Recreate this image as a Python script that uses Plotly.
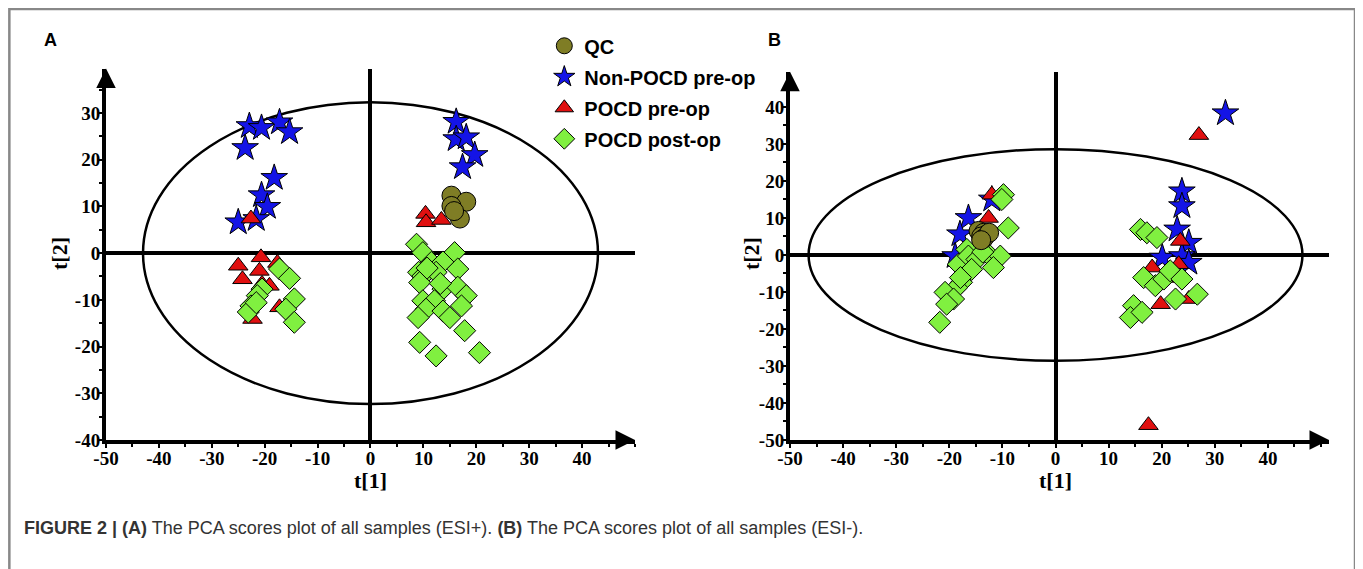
import plotly.graph_objects as go

# ---------------- Panel A (ESI+) ----------------
qc_a_x = [15.3, 18.1, 15.3, 16.9, 15.8]
qc_a_y = [12.3, 11.0, 10.1, 7.4, 9.0]

star_a_x = [-22.9, -20.6, -17.2, -15.3, -23.7, -18.2, -20.6, -19.5, -25.0, -21.6,
            16.2, 16.2, 18.1, 19.7, 17.4]
star_a_y = [27.2, 26.8, 28.0, 25.9, 22.5, 16.1, 12.4, 9.9, 6.6, 7.3,
            28.1, 24.4, 24.8, 21.0, 18.4]

tri_a_x = [-22.6, -25.0, -20.7, -24.2, -21.0, -17.6, -20.5, -19.1, -17.2, -22.3,
           10.4, 10.5, 13.4]
tri_a_y = [7.4, -2.7, -0.9, -5.6, -3.8, -2.1, -6.6, -7.0, -11.6, -14.1,
           8.4, 6.6, 7.1]

dia_a_x = [-17.2, -15.3, -20.5, -21.4, -22.6, -23.1, -14.4, -16.0, -14.4, -21.6,
           8.7, 9.9, 15.9, 11.5, 13.7, 16.5, 9.1, 9.9, 9.3, 12.4, 13.7, 16.5, 18.1,
           9.9, 12.1, 10.5, 13.7, 17.2, 15.0, 9.0, 17.8, 9.3, 12.4, 20.6, 13.2, 10.7]
dia_a_y = [-3.4, -5.4, -7.7, -9.1, -11.3, -12.6, -9.8, -12.0, -14.8, -10.6,
           1.9, 0.1, 0.1, -2.0, -1.9, -3.4, -4.1, -4.9, -6.3, -4.1, -7.7, -7.3, -9.1,
           -10.2, -10.2, -12.0, -12.4, -11.3, -13.8, -13.8, -16.6, -19.1, -22.0, -21.3, -6.5, -3.2]

# ---------------- Panel B (ESI-) ----------------
qc_b_x = [-14.5, -13.5, -13.0, -14.0, -13.5, -12.5, -14.0]
qc_b_y = [6.5, 6.0, 5.5, 5.0, 4.5, 6.0, 4.0]

star_b_x = [-16.4, -18.0, -12.0, -18.9,
            32.0, 23.8, 23.8, 22.9, 25.1, 20.1, 23.8, 25.1]
star_b_y = [10.0, 5.6, 15.0, -0.3,
            38.3, 17.2, 13.2, 6.9, 3.3, -0.7, -0.3, -2.1]

tri_b_x = [-12.0, -12.6,
           27.0, 23.5, 18.2, 23.2, 19.8, 25.1, 21.2, 17.5]
tri_b_y = [16.3, 10.0,
           32.4, 3.8, -3.4, -2.5, -13.3, -11.9, -6.2, -46.0]

dia_b_x = [-9.8, -10.1, -8.9, -16.7, -18.3, -16.4, -14.8, -15.8, -12.3, -10.4, -11.7,
           -13.7, -17.7, -18.6, -20.8, -19.2, -20.5, -21.8, -17.9,
           16.0, 17.2, 19.1, 16.6, 18.8, 20.4, 21.6, 23.8, 22.6, 26.7, 14.7, 14.1, 16.3]
dia_b_y = [16.3, 15.0, 7.3, 1.5, -2.5, -0.3, -1.2, -3.9, -0.3, -0.3, -3.4,
           0.8, -7.4, -8.8, -10.1, -11.9, -13.3, -18.2, -6.1,
           6.9, 6.0, 4.7, -6.1, -8.3, -6.5, -4.3, -6.5, -11.9, -10.6, -13.7, -16.9, -15.5]

# ellipse semi-axes (Hotelling T2)
ell_a = (43.0, 32.3)
ell_b = (46.5, 28.6)

x_ticks = [-50, -40, -30, -20, -10, 0, 10, 20, 30, 40]
y_ticks_a = [-40, -30, -20, -10, 0, 10, 20, 30]
y_ticks_b = [-50, -40, -30, -20, -10, 0, 10, 20, 30, 40]

names = ["QC", "Non-POCD pre-op", "POCD pre-op", "POCD post-op"]
colors = {"QC": "#7f7d25", "Non-POCD pre-op": "#1414e6",
          "POCD pre-op": "#e01010", "POCD post-op": "#80f040"}
symbols = {"QC": "circle", "Non-POCD pre-op": "star",
           "POCD pre-op": "triangle-up", "POCD post-op": "diamond"}
sizes = {"QC": 19, "Non-POCD pre-op": 20, "POCD pre-op": 17, "POCD post-op": 17}
rank = {"QC": 1, "Non-POCD pre-op": 2, "POCD pre-op": 3, "POCD post-op": 4}

fig = go.Figure()

panels = [
    ("x", "y", True, {"Non-POCD pre-op": (star_a_x, star_a_y), "POCD pre-op": (tri_a_x, tri_a_y),
                      "POCD post-op": (dia_a_x, dia_a_y), "QC": (qc_a_x, qc_a_y)}),
    ("x2", "y2", False, {"Non-POCD pre-op": (star_b_x, star_b_y), "POCD pre-op": (tri_b_x, tri_b_y),
                         "POCD post-op": (dia_b_x, dia_b_y), "QC": (qc_b_x, qc_b_y)}),
]
for xa, ya, show, groups in panels:
    for nm in ["Non-POCD pre-op", "POCD pre-op", "POCD post-op", "QC"]:
        gx, gy = groups[nm]
        fig.add_trace(go.Scatter(
            x=gx, y=gy, mode="markers", name=nm, xaxis=xa, yaxis=ya,
            showlegend=show, legendrank=rank[nm], legendgroup=nm,
            marker=dict(symbol=symbols[nm], size=sizes[nm], color=colors[nm],
                        line=dict(color="black", width=1)),
            cliponaxis=False))

tickfont = dict(family="Liberation Serif", size=19, color="black", weight="bold")
titlefont = dict(family="Liberation Serif", size=22, color="black", weight="bold")


def xaxis(domain, rng, anchor):
    return dict(domain=domain, range=rng, anchor=anchor, tickvals=x_ticks,
                ticktext=[str(v) for v in x_ticks], automargin=False,
                showline=True, linewidth=4, linecolor="black", mirror=False,
                ticks="outside", ticklen=4, tickwidth=2, tickcolor="black",
                ticklabelstandoff=-6,
                minor=dict(dtick=5, ticks="outside", ticklen=3, tickwidth=1.5, tickcolor="black"),
                showgrid=False, zeroline=True, zerolinewidth=3.5, zerolinecolor="black",
                tickfont=tickfont)


def yaxis(domain, rng, anchor, ticks):
    return dict(domain=domain, range=rng, anchor=anchor, tickvals=ticks,
                ticktext=[str(v) for v in ticks], automargin=False,
                showline=True, linewidth=4, linecolor="black",
                ticks="outside", ticklen=4, tickwidth=2, tickcolor="black",
                ticklabelstandoff=-6,
                minor=dict(dtick=5, ticks="outside", ticklen=3, tickwidth=1.5, tickcolor="black"),
                showgrid=False, zeroline=True, zerolinewidth=3.5, zerolinecolor="black",
                tickfont=tickfont)


fig.update_layout(
    width=1355, height=561, margin=dict(l=0, r=0, t=0, b=0, autoexpand=False),
    paper_bgcolor="white", plot_bgcolor="white",
    xaxis=xaxis([0.07232, 0.46273], [-50, 50], "y"),
    yaxis=yaxis([0.22995, 0.89198], [-40, 39.5], "x", y_ticks_a),
    xaxis2=xaxis([0.57712, 0.97491], [-50, 51.5], "y2"),
    yaxis2=yaxis([0.22995, 0.88627], [-50, 49.5], "x2", y_ticks_b),
    legend=dict(x=0.3958, y=0.9674, xanchor="left", yanchor="top",
                font=dict(family="Liberation Sans", size=20, color="black", weight="bold"),
                itemsizing="trace", tracegroupgap=2, bgcolor="rgba(0,0,0,0)",
                traceorder="grouped"),
    showlegend=True,
)

# ellipses
for (a, b), xr, yr in [(ell_a, "x", "y"), (ell_b, "x2", "y2")]:
    fig.add_shape(type="circle", xref=xr, yref=yr, x0=-a, x1=a, y0=-b, y1=b,
                  line=dict(color="black", width=2.5), layer="below")

# axis arrows
for xr, yr, xmax, ymin, ymax in [("x", "y", 50, -40, 39.5), ("x2", "y2", 51.5, -50, 49.5)]:
    fig.add_annotation(x=xmax, y=ymin, ax=xmax - 3, ay=ymin, xref=xr, yref=yr, axref=xr, ayref=yr,
                       showarrow=True, arrowhead=2, arrowsize=1.3, arrowwidth=3, arrowcolor="black", text="")
    fig.add_annotation(x=-50, y=ymax, ax=-50, ay=ymax - 4, xref=xr, yref=yr, axref=xr, ayref=yr,
                       showarrow=True, arrowhead=2, arrowsize=1.3, arrowwidth=3, arrowcolor="black", text="")

# axis titles
for xr, ypx in [("x", 0.03838), ("x2", 0.5491)]:
    fig.add_annotation(text="t[1]", x=0, y=0.1569, xref=xr, yref="paper", showarrow=False,
                       xanchor="center", yanchor="middle", font=titlefont)
    fig.add_annotation(text="t[2]", x=ypx, y=0.5615, xref="paper", yref="paper", showarrow=False,
                       textangle=-90, xanchor="center", yanchor="middle", font=titlefont)

# panel letters
for lbl, px in [("A", 0.0251), ("B", 0.5594)]:
    fig.add_annotation(text=lbl, x=px, y=0.943, xref="paper", yref="paper", showarrow=False,
                       xanchor="left", yanchor="middle",
                       font=dict(family="Liberation Sans", size=18, color="black", weight="bold"))

# caption
fig.add_annotation(
    text="<b>FIGURE 2 | (A)</b> The PCA scores plot of all samples (ESI+). <b>(B)</b> The PCA scores plot of all samples (ESI-).",
    x=0.01033, y=0.0731, xref="paper", yref="paper", showarrow=False, xanchor="left", yanchor="middle",
    font=dict(family="Liberation Sans", size=18, color="#333333"))

# frame border
fig.add_shape(type="path", xref="paper", yref="paper",
              path="M 0.001 -0.05 L 0.001 0.998 L 0.9941 0.998 L 0.9941 -0.05",
              line=dict(color="#888888", width=2.5))

fig.write_html("out.html")
